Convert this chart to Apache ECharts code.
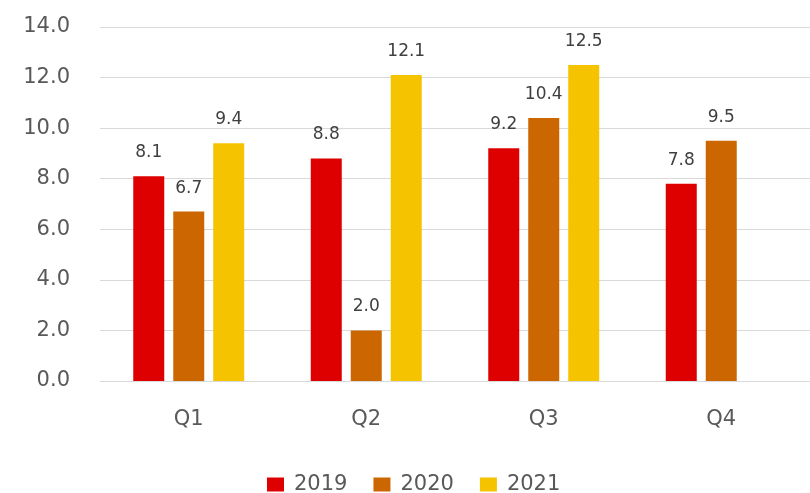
<!DOCTYPE html>
<html>
<head>
<meta charset="utf-8">
<script src="https://cdn.jsdelivr.net/npm/echarts@6/dist/echarts.min.js"></script>
<style>
  html, body { margin: 0; padding: 0; background: #fff; }
  #chart { width: 810px; height: 493px; }
</style>
</head>
<body>
<div id="chart"></div>
<script>
// Quarterly values per year
const quarters = ['Q1', 'Q2', 'Q3', 'Q4'];
const years = ['2019', '2020', '2021'];
const values2019 = [8.1, 8.8, 9.2, 7.8];
const values2020 = [6.7, 2.0, 10.4, 9.5];
const values2021 = [9.4, 12.1, 12.5, null];
const yTicks = { min: 0, max: 14, interval: 2 };

const colors = ['#DE0000', '#CC6600', '#F5C300'];
const seriesValues = [values2019, values2020, values2021];
const font = 'DejaVu Sans';

const chart = echarts.init(document.getElementById('chart'));
chart.setOption({
  animation: false,
  color: colors,
  grid: { left: 100, right: -2, top: 27, bottom: 112 },
  legend: {
    data: years,
    left: 262,
    top: 469,
    itemWidth: 17,
    itemHeight: 14,
    itemGap: 26,
    icon: 'rect',
    textStyle: { fontFamily: font, fontSize: 21, color: '#595959', padding: [0, 0, 0, 5] }
  },
  xAxis: {
    type: 'category',
    data: quarters,
    axisTick: { show: false },
    axisLine: { lineStyle: { color: '#D9D9D9', width: 1 } },
    axisLabel: { fontFamily: font, fontSize: 21, color: '#595959', margin: 28 }
  },
  yAxis: {
    type: 'value',
    min: yTicks.min,
    max: yTicks.max,
    interval: yTicks.interval,
    axisLine: { show: false },
    axisTick: { show: false },
    splitLine: { lineStyle: { color: '#D9D9D9', width: 1 } },
    axisLabel: {
      fontFamily: font, fontSize: 21, color: '#595959', margin: 30,
      formatter: v => v.toFixed(1)
    }
  },
  series: years.map((y, i) => ({
    name: y,
    type: 'bar',
    data: seriesValues[i],
    barWidth: 31,
    barGap: '29%',
    label: {
      show: true,
      position: 'top',
      distance: 15,
      fontFamily: font,
      fontSize: 17,
      color: '#404040',
      formatter: p => p.value == null ? '' : p.value.toFixed(1)
    }
  }))
});
</script>
</body>
</html>
